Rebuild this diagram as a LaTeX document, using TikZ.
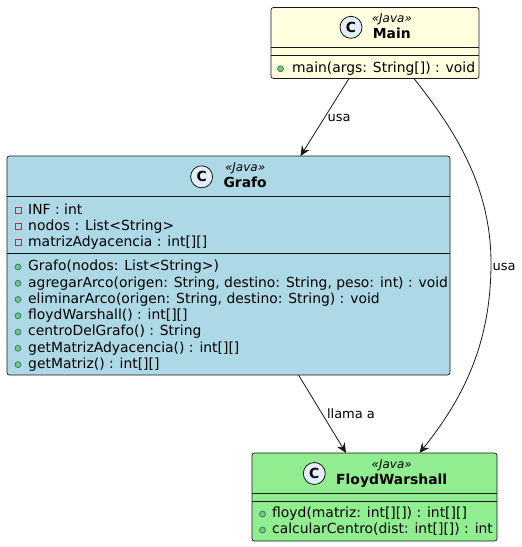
\documentclass[tikz,border=0pt]{standalone}
\usepackage{fontspec}
\setmainfont{DejaVu Sans}
\usetikzlibrary{arrows.meta,calc}
\definecolor{bordc}{HTML}{181818}
\definecolor{mainfill}{HTML}{FFFFE0}
\definecolor{grafofill}{HTML}{ADD8E6}
\definecolor{fwfill}{HTML}{90EE90}
\definecolor{spotfill}{HTML}{E3EEF9}
\definecolor{pubfill}{HTML}{84BE84}
\definecolor{pubdraw}{HTML}{038048}
\definecolor{privdraw}{HTML}{C82930}
\tikzset{
  classbox/.style={draw=bordc, line width=0.7pt, rounded corners=2.5pt, inner sep=0pt, outer sep=0pt},
  hsep/.style={draw=bordc, line width=0.6pt},
  msep/.style={draw=black, line width=0.9pt},
  member/.style={anchor=base west, inner sep=0pt, font=\fontsize{13.9}{16}\selectfont},
  cname/.style={anchor=base west, inner sep=0pt, font=\fontsize{13.9}{16}\selectfont\bfseries},
  stereo/.style={anchor=base, inner sep=0pt, font=\fontsize{12}{14}\selectfont\itshape},
  spot/.style={circle, draw=bordc, line width=0.8pt, fill=spotfill, minimum size=22pt, inner sep=0pt, font=\fontsize{13.9}{16}\selectfont\bfseries},
  pub/.style={circle, draw=pubdraw, fill=pubfill, line width=0.6pt, minimum size=6pt, inner sep=0pt},
  priv/.style={rectangle, draw=privdraw, line width=0.7pt, minimum size=6pt, inner sep=0pt},
  conn/.style={draw=bordc, line width=0.8pt, -{Stealth[length=10pt,width=9pt,inset=3.5pt]}},
  lbl/.style={inner sep=0pt, font=\fontsize{13}{15}\selectfont}
}
\begin{document}
\begin{tikzpicture}[x=1pt,y=-1pt]
\useasboundingbox (0,0) rectangle (522,547);

% ---------- Main ----------
\node[classbox, fill=mainfill, minimum width=208pt, minimum height=71pt] (main) at (375,43) {};
\node[cname] (mainname) at (372.7,38.3) {Main};
\node[stereo] (mainst) at ($(mainname.base)+(0,-16)$) {«Java»};
\node[spot] (mainspot) at ($(mainname.base west)+(-21.7,-11)$) {C};
\draw[hsep] ($(main.north west)+(0,40)$) -- ($(main.north east)+(0,40)$);
\draw[hsep] ($(main.north west)+(0,48)$) -- ($(main.north east)+(0,48)$);
\node[member] (mainm1) at (292,72.5) {main(args: String[]) : void};
\node[pub] (mainm1p) at ($(mainm1.base west)+(-11.5,-3.7)$) {};

% ---------- Grafo ----------
\node[classbox, fill=grafofill, minimum width=443pt, minimum height=219pt] (grafo) at (228.5,265.5) {};
\node[cname] (grafoname) at (223.3,187.8) {Grafo};
\node[stereo] (grafost) at ($(grafoname.base)+(0,-16)$) {«Java»};
\node[spot] (grafospot) at ($(grafoname.base west)+(-21.7,-11)$) {C};
\draw[hsep] ($(grafo.north west)+(0,40.5)$) -- ($(grafo.north east)+(0,40.5)$);
\draw[msep] ($(grafo.north west)+(0,97.3)$) -- ($(grafo.north east)+(0,97.3)$);
\node[member] (ga1) at (28,214.3) {INF : int};
\node[member] (ga2) at (28,230.6) {nodos : List<String>};
\node[member] (ga3) at (28,246.8) {matrizAdyacencia : int[][]};
\node[priv] (ga1p) at ($(ga1.base west)+(-9.5,-4)$) {};
\node[priv] (ga2p) at ($(ga2.base west)+(-9.5,-4)$) {};
\node[priv] (ga3p) at ($(ga3.base west)+(-9.5,-4)$) {};
\node[member] (gm1) at (28,270.7) {Grafo(nodos: List<String>)};
\node[member] (gm2) at (28,287.0) {agregarArco(origen: String, destino: String, peso: int) : void};
\node[member] (gm3) at (28,303.2) {eliminarArco(origen: String, destino: String) : void};
\node[member] (gm4) at (28,319.5) {floydWarshall() : int[][]};
\node[member] (gm5) at (28,335.8) {centroDelGrafo() : String};
\node[member] (gm6) at (28,352.0) {getMatrizAdyacencia() : int[][]};
\node[member] (gm7) at (28,368.3) {getMatriz() : int[][]};
\foreach \m in {gm1,gm2,gm3,gm4,gm5,gm6,gm7}{
  \node[pub] (\m p) at ($(\m.base west)+(-10,-3.7)$) {};
}

% ---------- FloydWarshall ----------
\node[classbox, fill=fwfill, minimum width=245pt, minimum height=88pt] (fw) at (374.5,497) {};
\node[cname] (fwname) at (336,484.5) {FloydWarshall};
\node[stereo] (fwst) at ($(fwname.base)+(0,-16)$) {«Java»};
\node[spot] (fwspot) at ($(fwname.base west)+(-21.7,-11)$) {C};
\draw[hsep] ($(fw.north west)+(0,40.3)$) -- ($(fw.north east)+(0,40.3)$);
\draw[hsep] ($(fw.north west)+(0,48)$) -- ($(fw.north east)+(0,48)$);
\node[member] (fm1) at (272,517.7) {floyd(matriz: int[][]) : int[][]};
\node[member] (fm2) at (272,533.7) {calcularCentro(dist: int[][]) : int};
\node[pub] (fm1p) at ($(fm1.base west)+(-9.5,-3.7)$) {};
\node[pub] (fm2p) at ($(fm2.base west)+(-9.5,-3.7)$) {};

% ---------- connectors ----------
\draw[conn] ([xshift=-26pt]main.south) -- ([xshift=72pt]grafo.north);
\node[lbl] (l1) at (339,118) {usa};

\coordinate (cv) at (491,263);
\draw[conn] ([xshift=39pt]main.south) .. controls (448,122) and (491,180) .. (cv)
  .. controls (491,345) and (462,400) .. ([xshift=45pt]fw.north);
\node[lbl] (l2) at (504,267) {usa};

\draw[conn] ([xshift=70pt]grafo.south) -- ([xshift=-28.5pt]fw.north);
\node[lbl] (l3) at (351,414) {llama a};
\end{tikzpicture}
\end{document}
